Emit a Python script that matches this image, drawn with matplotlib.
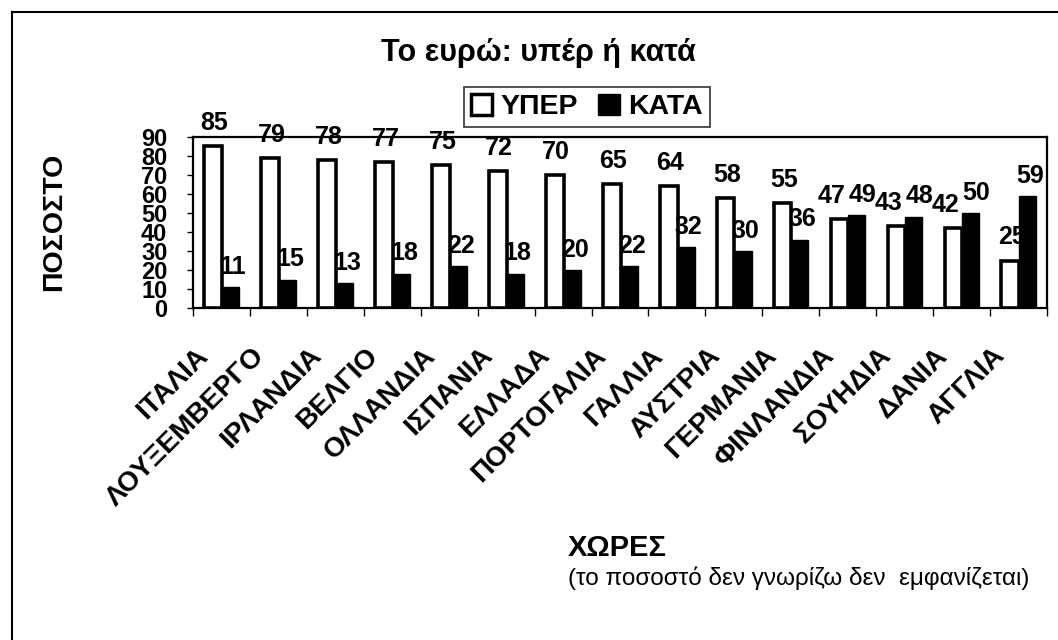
import matplotlib
matplotlib.use("Agg")
import matplotlib.pyplot as plt
import matplotlib.transforms as mtransforms
from matplotlib.lines import Line2D
from matplotlib.patches import Patch
import numpy as np

plt.rcParams["font.family"] = ["Liberation Sans", "DejaVu Sans"]

countries = ["ΙΤΑΛΙΑ", "ΛΟΥΞΕΜΒΕΡΓΟ", "ΙΡΛΑΝΔΙΑ", "ΒΕΛΓΙΟ", "ΟΛΛΑΝΔΙΑ",
             "ΙΣΠΑΝΙΑ", "ΕΛΛΑΔΑ", "ΠΟΡΤΟΓΑΛΙΑ", "ΓΑΛΛΙΑ", "ΑΥΣΤΡΙΑ",
             "ΓΕΡΜΑΝΙΑ", "ΦΙΝΛΑΝΔΙΑ", "ΣΟΥΗΔΙΑ", "ΔΑΝΙΑ", "ΑΓΓΛΙΑ"]
yper = [85, 79, 78, 77, 75, 72, 70, 65, 64, 58, 55, 47, 43, 42, 25]
kata = [11, 15, 13, 18, 22, 18, 20, 22, 32, 30, 36, 49, 48, 50, 59]
yticks = list(range(0, 91, 10))

W, H = 1058, 640
fig = plt.figure(figsize=(W / 100, H / 100), dpi=100)
fig.patch.set_facecolor("white")

# plot area in pixel coords of the reference
ax = fig.add_axes([193 / W, 1 - 308 / H, (1047 - 193) / W, (308 - 137) / H])

x = np.arange(len(countries))
bw = 0.31
ax.bar(x + 0.2, yper, width=bw, align="edge", color="white",
       edgecolor="black", linewidth=2.6, zorder=3)
ax.bar(x + 0.5, kata, width=bw, align="edge", color="black",
       edgecolor="black", linewidth=1, zorder=3)

for i, (a, b) in enumerate(zip(yper, kata)):
    close = abs(a - b) < 10
    ax.annotate(str(a), (i + 0.2 + bw / 2, a), xytext=(-6 if close else 1, 8),
                textcoords="offset points", ha="center", va="bottom",
                fontsize=18, fontweight="bold", zorder=5)
    ax.annotate(str(b), (i + 0.5 + bw / 2, b), xytext=(4 if close else 2, 6),
                textcoords="offset points", ha="center", va="bottom",
                fontsize=18, fontweight="bold", zorder=5)

ax.set_xlim(0, len(countries))
ax.set_ylim(0, 90)
ax.set_yticks(yticks)
ax.set_yticklabels([str(t) for t in yticks], fontsize=17, fontweight="bold")
ax.tick_params(axis="y", length=4.5, width=1, pad=14)

ax.set_xticks(np.arange(len(countries) + 1), minor=True)
ax.set_xticks(x + 0.5)
ax.set_xticklabels(countries, rotation=45, ha="right", va="top",
                   rotation_mode="anchor", fontsize=20, fontweight="bold")
ax.tick_params(axis="x", which="major", length=0, pad=25)
ax.tick_params(axis="x", which="minor", length=6, width=1)
shift = mtransforms.ScaledTranslation(-0.27, 0, fig.dpi_scale_trans)
for lab in ax.get_xticklabels():
    lab.set_transform(lab.get_transform() + shift)

for s in ax.spines.values():
    s.set_linewidth(1.6)

fig.text(538 / W, 1 - 53 / H, "Το ευρώ: υπέρ ή κατά", ha="center", va="center",
         fontsize=22, fontweight="bold")
fig.text(54 / W, 1 - 222 / H, "ΠΟΣΟΣΤΟ", rotation=90, ha="center", va="center",
         fontsize=20.5, fontweight="bold")
fig.text(568 / W, 1 - 548 / H, "ΧΩΡΕΣ", ha="left", va="center",
         fontsize=21, fontweight="bold")
fig.text(568 / W, 1 - 578 / H, "(το ποσοστό δεν γνωρίζω δεν  εμφανίζεται)",
         ha="left", va="center", fontsize=17.5)

handles = [Patch(facecolor="white", edgecolor="black", linewidth=2.5),
           Patch(facecolor="black", edgecolor="black")]
leg = fig.legend(handles, ["ΥΠΕΡ", "ΚΑΤΑ"], loc="center",
                 bbox_to_anchor=(587 / W, 1 - 107 / H), ncol=2,
                 prop={"size": 20.5, "weight": "bold"}, frameon=True,
                 fancybox=False, edgecolor="black", handlelength=0.75,
                 handleheight=0.75, handletextpad=0.3, columnspacing=0.7,
                 borderpad=0.25)
leg.get_frame().set_linewidth(1.2)

# outer chart border (left and top visible)
fig.add_artist(Line2D([12 / W, 12 / W], [0, 1 - 12 / H], color="black", lw=1.5))
fig.add_artist(Line2D([12 / W, 1], [1 - 12 / H, 1 - 12 / H], color="black", lw=1.5))

fig.savefig("out.png", dpi=100, facecolor="white")
